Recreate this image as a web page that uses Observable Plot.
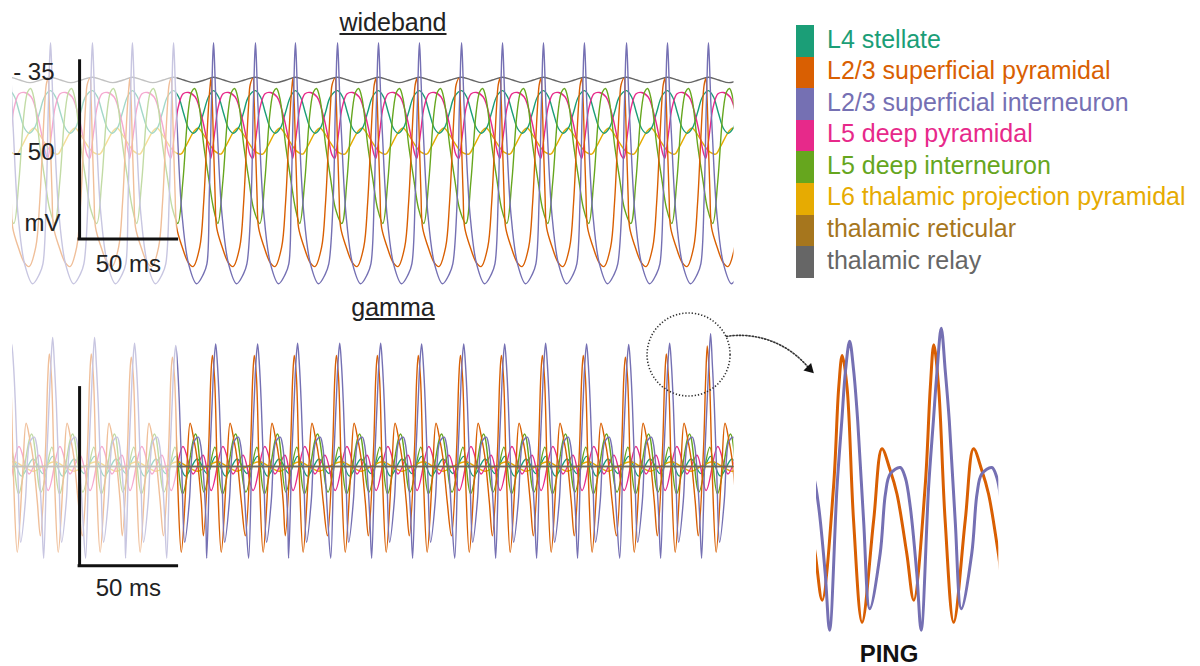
<!DOCTYPE html>
<html>
<head>
<meta charset="utf-8">
<script src="https://cdn.jsdelivr.net/npm/d3@7"></script>
<script src="https://cdn.jsdelivr.net/npm/@observablehq/plot@0.6"></script>
<style>
  html, body { margin: 0; padding: 0; background: #fff; }
  #fig { position: relative; width: 1200px; height: 666px; overflow: hidden; background: #fff;
         font-family: "Liberation Sans", Helvetica, Arial, sans-serif; }
  .panel { position: absolute; }
  .title { position: absolute; font-size: 25px; line-height: 25px; color: #222; white-space: nowrap;
           text-decoration: underline; text-decoration-thickness: 1.5px; text-underline-offset: 2px;
           transform: translateX(-50%); }
  .ping { position: absolute; font-size: 24px; line-height: 24px; font-weight: bold; color: #111;
          transform: translateX(-50%); }
  .legend { position: absolute; left: 796px; top: 25px; }
  .legend .row { display: flex; align-items: center; height: 31.6px; }
  .legend .sw { width: 18px; height: 31.6px; flex: none; }
  .legend .lab { margin-left: 13px; font-size: 25px; line-height: 31.6px; white-space: nowrap; position: relative; top: -1.5px; }
</style>
</head>
<body>
<div id="fig"></div>
<script>
// ---------------- data ----------------
const seriesNames = ["L4 stellate", "L2/3 superficial pyramidal", "L2/3 superficial interneuron",
  "L5 deep pyramidal", "L5 deep interneuron", "L6 thalamic projection pyramidal",
  "thalamic reticular", "thalamic relay"];
const seriesColors = ["#1b9e77", "#d95f02", "#7570b3", "#e7298a", "#66a61e", "#e6ab02", "#a6761d", "#666666"];

// time window shown (ms) and the faded start-up part
const timeDomain = [0, 370];
const fadeWindow = [[0, 84.5]];

// spike times (ms) of the L2/3 interneuron in the wideband trace (first/last lie just outside the window)
const spikeTimes = [-22.6, -1.5, 19.5, 41.0, 61.5, 82.6, 103.1, 124.6, 145.1, 166.7, 187.7,
  208.7, 230.3, 251.3, 272.3, 293.3, 314.9, 335.9, 356.9, 377.9];

// wideband waveform of one cycle for each population: [ms after interneuron spike, mV]
const wbStellate = [[0, -38.4], [2.6, -39.6], [5.1, -42.6], [7.7, -45.5], [10.1, -46.4], [12.8, -45.4], [15.4, -42.5], [18.0, -39.5]];
const wbSupPyr   = [[-1.3, -36.1], [-0.7, -40], [0.1, -50], [0.8, -58], [1.6, -64.1], [4.5, -67.8], [7.5, -70.6], [10.0, -71.4], [13.4, -67.8], [15.4, -59.6], [17.0, -48], [18.0, -41], [18.8, -37.3]];
const wbSupInt   = [[-2.2, -58.4], [-1.2, -42.5], [-0.5, -33.0], [0, -29.4], [0.5, -33.0], [1.2, -40.5], [2.0, -46.5], [4.3, -61.5], [7.7, -70.9], [11.8, -74.6], [15.3, -72.8], [17.1, -70.9]];
const wbDeepPyr  = [[-1.4, -51.1], [-0.2, -48.5], [0.7, -45.9], [2.4, -41.5], [4.9, -39.0], [7.7, -38.75], [11.1, -39.6], [14.5, -43.4], [17.1, -47.75], [18.7, -50.4]];
const wbDeepInt  = [[2.2, -63.3], [4.8, -55.3], [7.4, -42.7], [9.3, -38.6], [10.8, -38.0], [12.5, -39.8], [15.6, -49.0], [18.2, -55.3], [20.5, -60.5]];
const wbL6       = [[3.7, -50.3], [6.0, -49.0], [8.3, -47.4], [10.5, -46.0], [12.6, -45.4], [15.3, -46.6], [18.2, -48.3], [21.0, -49.7]];
const wbRelay    = [[0, -35.9], [5.2, -36.4], [10.5, -36.9], [15.8, -36.4]];

// gamma-band waveform: [ms after the gamma interneuron peak, mV]; "peak" = per-cycle value below
const gammaLag = 1.1; // ms, gamma peak after the wideband spike
const gSupInt   = [[-4.6, -17.2], [-2.9, 2.7], [-1.8, 12.0], [-0.95, 19.0], [0, "peak"], [0.92, 19.0], [1.85, 12.0], [3.2, -1.9], [4.6, -14.2], [7.0, -6.5], [8.2, 1.8], [9.3, 4.6], [11.6, 5.5], [12.75, 4.1], [13.9, 0], [15.4, -9.3]];
const gSupPyr   = [[-6.3, -13.0], [-3.7, 2.75], [-2.5, 16.7], [-1.7, "peak"], [-0.6, 16.7], [0.9, -1.9], [2.85, -16.1], [5.5, -1.9], [7.4, 8.1], [9.3, 5.1], [10.85, 1.8], [13.1, -6.5]];
const gDeepPyr  = [[-2.3, -4.5], [3.7, 3.75], [8.9, -1.4], [14.0, 2.1]];
const gDeepInt  = [[-6.0, -4.8], [-0.4, 3.6], [3.5, -5.1], [10.2, 6.1]];
const gStellate = [[0, 1.9], [5.0, -1.8], [11.0, 1.4], [16.0, -1.3]];
const gL6       = [[1.0, 0.9], [6.0, 0], [11.0, -0.9], [16.0, 0]];
const gThalamic = [[0, 0], [380, 0]]; // relay and reticular stay flat: [ms, mV]
const gSupIntPeaks = [23.0, 23.0, 24.2, 24.2, 23.1, 22.7, 23.0, 23.0, 23.1, 23.1, 23.1, 23.0, 23.0, 23.0, 23.1, 23.0, 22.9, 23.1, 24.9, 23.0];
const gSupPyrPeaks = [21.1, 21.1, 21.1, 21.1, 20.5, 20.5, 20.8, 20.8, 20.8, 20.8, 20.8, 20.8, 20.8, 20.8, 20.8, 20.8, 20.5, 21.1, 22.6, 20.8];

// scale bars and y ticks
const scaleBar = {t0: 34.4, ms: 50, mV: 33.3, wbBottom: -66.2, gBottom: -18.6};
const wbTicks = [-35, -50];

// PING zoom annotation
const pingWindow = [329.4, 371.2];
const pingCircle = [{t: 346.7, v: 21.0}];
const pingArrow = [{t1: 366.2, v1: 24.4, t2: 408.7, v2: 18.3}];

// ---------------- helpers ----------------
const colorOf = Object.fromEntries(seriesNames.map((n, i) => [n, seriesColors[i]]));
function cycles(shape, lag = 0, peaks = null) {
  const rows = [];
  spikeTimes.forEach((t0, i) => {
    for (const [dt, v] of shape) rows.push({t: t0 + lag + dt, v: v === "peak" ? peaks[i] : v});
  });
  return rows;
}
const fig = document.getElementById("fig");
function place(node, left, top) {
  const w = document.createElement("div");
  w.className = "panel"; w.style.left = left + "px"; w.style.top = top + "px";
  w.appendChild(node); fig.appendChild(w);
}
const style = {background: "transparent", overflow: "visible",
  fontFamily: '"Liberation Sans", Helvetica, Arial, sans-serif', fontSize: "24px", color: "#222"};
const line = (data, name, w = 1.4) => Plot.line(data, {x: "t", y: "v", stroke: colorOf[name], strokeWidth: w, curve: "catmull-rom", clip: true});
const fade = Plot.rect(fadeWindow, {x1: d => d[0], x2: d => d[1], fill: "white", fillOpacity: 0.6});
const bars = (bottomKey, labelDy) => [
  Plot.ruleX([scaleBar], {x: d => d.t0, y1: d => d[bottomKey], y2: d => d[bottomKey] + d.mV, stroke: "#111", strokeWidth: 3, strokeLinecap: "square"}),
  Plot.ruleY([scaleBar], {y: d => d[bottomKey], x1: d => d.t0, x2: d => d.t0 + d.ms, stroke: "#111", strokeWidth: 3, strokeLinecap: "square"}),
  Plot.text([scaleBar], {x: d => d.t0 + d.ms / 2, y: d => d[bottomKey], text: d => `${d.ms} ms`, dy: labelDy, fontSize: 24, fill: "#222"})
];

// ---------------- wideband ----------------
const wbOrder = [["thalamic relay", wbRelay], ["L6 thalamic projection pyramidal", wbL6], ["L4 stellate", wbStellate],
  ["L5 deep pyramidal", wbDeepPyr], ["L5 deep interneuron", wbDeepInt],
  ["L2/3 superficial pyramidal", wbSupPyr], ["L2/3 superficial interneuron", wbSupInt]];
const wb = Plot.plot({
  width: 760, height: 300, marginLeft: 12, marginRight: 26.5, marginTop: 30, marginBottom: 8,
  x: {domain: timeDomain, axis: null},
  y: {domain: [-76.25, -27.125]},
  style,
  marks: [
    ...wbOrder.map(([name, shape]) => line(cycles(shape), name)),
    fade,
    Plot.axisY(wbTicks, {tickSize: 0, tickFormat: d => `- ${-d}`, fontSize: 24, dx: 51, label: null, fill: "#222"}),
    ...bars("wbBottom", 25),
    Plot.text([scaleBar], {x: d => d.t0, y: d => d.wbBottom, text: () => "mV", textAnchor: "end", dx: -19, dy: -16, fontSize: 24, fill: "#222"})
  ]
});
place(wb, 0, 0);

// ---------------- gamma ----------------
const gOrder = [["L4 stellate", cycles(gStellate, gammaLag)], ["L6 thalamic projection pyramidal", cycles(gL6, gammaLag)],
  ["L5 deep pyramidal", cycles(gDeepPyr, gammaLag)], ["L5 deep interneuron", cycles(gDeepInt, gammaLag)],
  ["L2/3 superficial pyramidal", cycles(gSupPyr, gammaLag, gSupPyrPeaks)],
  ["L2/3 superficial interneuron", cycles(gSupInt, gammaLag, gSupIntPeaks)]];
const thal = gThalamic.map(([t, v]) => ({t, v}));
const gm = Plot.plot({
  width: 830, height: 310, marginLeft: 12, marginRight: 96.5, marginTop: 20, marginBottom: 10,
  x: {domain: timeDomain, axis: null},
  y: {domain: [-25.125, 27.375], axis: null},
  style,
  marks: [
    ...gOrder.map(([name, data]) => line(data, name)),
    line(thal, "thalamic reticular", 1.7),
    line(thal, "thalamic relay", 1.5),
    fade,
    ...bars("gBottom", 23),
    Plot.dot(pingCircle, {x: "t", y: "v", r: 41.5, stroke: "#333", strokeWidth: 1.6, strokeDasharray: "1.3,1.9", fill: "none"}),
    Plot.arrow(pingArrow, {x1: "t1", y1: "v1", x2: "t2", y2: "v2", bend: 30, headLength: 0, stroke: "#333", strokeWidth: 1.6, strokeDasharray: "1.3,1.9"}),
    Plot.dot(pingArrow, {x: "t2", y: "v2", symbol: "triangle", r: 4, rotate: 135, fill: "#111", stroke: "none"})
  ]
});
place(gm, 0, 300);

// ---------------- PING inset ----------------
const inset = Plot.plot({
  width: 220, height: 346, marginLeft: 26, marginRight: 11.7, marginTop: 5, marginBottom: 26,
  x: {domain: pingWindow, axis: null},
  y: {domain: [-18.63, 25.3], axis: null},
  style,
  marks: [
    line(gOrder[4][1], "L2/3 superficial pyramidal", 3),
    line(gOrder[5][1], "L2/3 superficial interneuron", 3)
  ]
});
place(inset, 790, 320);

// ---------------- texts & legend ----------------
function addText(cls, text, left, top) {
  const d = document.createElement("div");
  d.className = cls; d.textContent = text; d.style.left = left + "px"; d.style.top = top + "px";
  fig.appendChild(d);
}
addText("title", "wideband", 393, 9.5);
addText("title", "gamma", 393, 294.5);
addText("ping", "PING", 889, 641.5);

const lg = document.createElement("div");
lg.className = "legend";
seriesNames.forEach((name, i) => {
  const row = document.createElement("div"); row.className = "row";
  const sw = document.createElement("div"); sw.className = "sw"; sw.style.background = seriesColors[i];
  const lab = document.createElement("div"); lab.className = "lab"; lab.style.color = seriesColors[i]; lab.textContent = name;
  row.appendChild(sw); row.appendChild(lab); lg.appendChild(row);
});
fig.appendChild(lg);
</script>
</body>
</html>
